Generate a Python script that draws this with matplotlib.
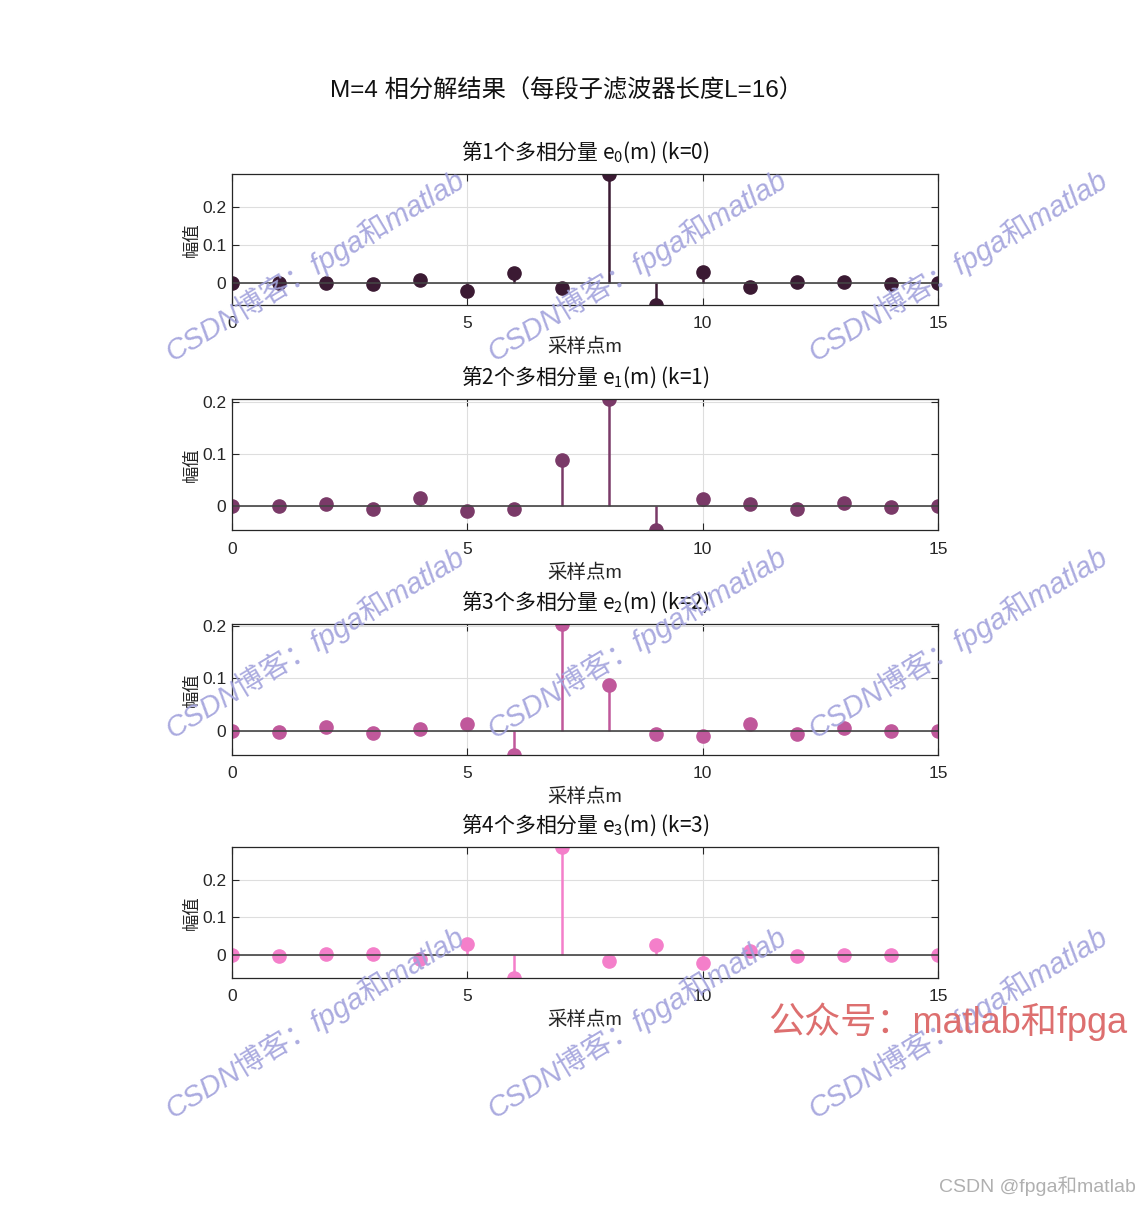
import numpy as np
import matplotlib
matplotlib.use("Agg")
import matplotlib.pyplot as plt

plt.rcParams['font.family'] = ['Liberation Sans', 'Noto Sans CJK SC', 'DejaVu Sans']
plt.rcParams['mathtext.fontset'] = 'custom'
plt.rcParams['mathtext.rm'] = 'Noto Sans CJK SC'
plt.rcParams['mathtext.it'] = 'Noto Sans CJK SC'
plt.rcParams['mathtext.default'] = 'rm'

# Polyphase components (M=4, L=16)
m = np.arange(16)
e0 = [0.000, 0.000, 0.001, -0.003, 0.010, -0.019, 0.026, -0.013,
      0.289, -0.057, 0.031, -0.010, 0.003, 0.003, -0.002, 0.000]
e1 = [0.000, 0.000, 0.003, -0.007, 0.015, -0.010, -0.007, 0.088,
      0.206, -0.048, 0.013, 0.003, -0.006, 0.006, -0.002, 0.000]
e2 = [0.000, -0.002, 0.006, -0.004, 0.003, 0.012, -0.047, 0.205,
      0.087, -0.007, -0.010, 0.012, -0.007, 0.004, 0.000, 0.000]
e3 = [0.000, -0.002, 0.003, 0.003, -0.010, 0.030, -0.060, 0.287,
      -0.016, 0.026, -0.020, 0.010, -0.002, 0.000, 0.000, 0.000]
components = [e0, e1, e2, e3]
colors = ['#3b1a33', '#7a3a68', '#c0589b', '#f47fca']

fig = plt.figure(figsize=(11.39, 12.05), dpi=100)

left, width, height = 0.2037, 0.6199, 0.109
bottoms = [0.7469, 0.5598, 0.3734, 0.1884]

for k, (vals, col) in enumerate(zip(components, colors)):
    ax = fig.add_axes([left, bottoms[k], width, height])
    markerline, stemlines, baseline = ax.stem(m, vals)
    stemlines.set_color(col)
    stemlines.set_linewidth(1.8)
    markerline.set_color(col)
    markerline.set_markersize(9.5)
    baseline.set_color('#444444')
    baseline.set_linewidth(1.2)
    ax.set_xlim(0, 15)
    ax.set_ylim(min(vals), max(vals))
    ax.set_xticks([0, 5, 10, 15])
    ax.set_yticks([0, 0.1, 0.2])
    ax.set_yticklabels(['0', '0.1', '0.2'])
    ax.tick_params(direction='in', length=5, top=True, right=True,
                   labelsize=12.5, colors='#262626', pad=4)
    ax.tick_params(axis='x', pad=8)
    for s in ax.spines.values():
        s.set_color('#262626')
        s.set_linewidth(0.9)
    ax.grid(True, color='#dedede', linewidth=0.8)
    ax.set_axisbelow(True)
    ax.set_title('第%d个多相分量 e$_{%d}$(m) (k=%d)' % (k + 1, k, k),
                 fontsize=15, pad=11, color='#111111',
                 family='Noto Sans CJK SC')
    ax.set_xlabel('采样点m', fontsize=14, labelpad=5, color='#262626')
    ax.set_ylabel('幅值', fontsize=12.5, labelpad=2, color='#262626')

fig.text(0.497, 0.925, 'M=4 相分解结果（每段子滤波器长度L=16）',
         ha='center', va='center', fontsize=17.5, color='#111111')

# watermarks
wm_x = [0.2765, 0.5593, 0.8411]
wm_y = [0.780, 0.467, 0.152]
for yy in wm_y:
    for xx in wm_x:
        fig.text(xx, yy, 'CSDN博客：fpga和matlab', rotation=31,
                 ha='center', va='center', fontsize=21, style='italic',
                 color='#a2a2dc', alpha=0.9, zorder=10)

fig.text(0.832, 0.152, '公众号：matlab和fpga', ha='center', va='center',
         fontsize=26, color='#dd6f6f', zorder=11)
fig.text(0.997, 0.016, 'CSDN @fpga和matlab', ha='right', va='center',
         fontsize=14, color='#b0b0b0')

fig.savefig('out.png', dpi=100)
